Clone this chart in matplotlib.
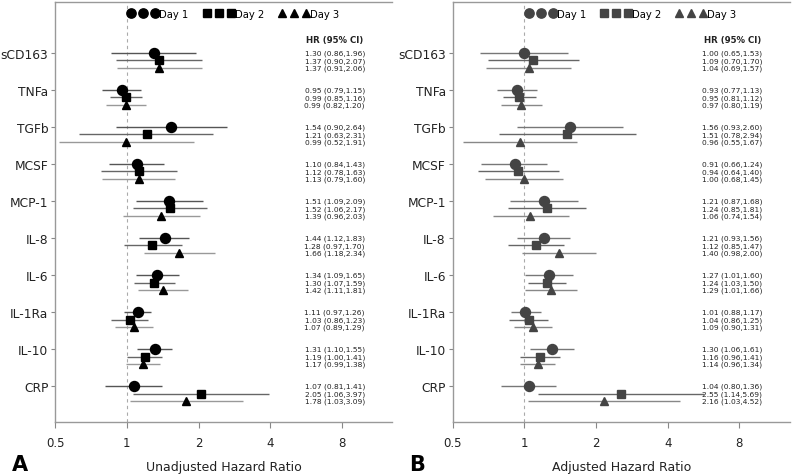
import numpy as np
import matplotlib
matplotlib.use("Agg")
import matplotlib.pyplot as plt
from matplotlib.lines import Line2D

markers = ["sCD163", "TNFa", "TGFb", "MCSF", "MCP-1", "IL-8", "IL-6", "IL-1Ra", "IL-10", "CRP"]
days = ["Day 1", "Day 2", "Day 3"]

# unadjusted hazard ratios, rows = markers, cols = day 1..3
unadj_hr = [[1.30, 1.37, 1.37], [0.95, 0.99, 0.99], [1.54, 1.21, 0.99], [1.10, 1.12, 1.13],
            [1.51, 1.52, 1.39], [1.44, 1.28, 1.66], [1.34, 1.30, 1.42], [1.11, 1.03, 1.07],
            [1.31, 1.19, 1.17], [1.07, 2.05, 1.78]]
unadj_lo = [[0.86, 0.90, 0.91], [0.79, 0.85, 0.82], [0.90, 0.63, 0.52], [0.84, 0.78, 0.79],
            [1.09, 1.06, 0.96], [1.12, 0.97, 1.18], [1.09, 1.07, 1.11], [0.97, 0.86, 0.89],
            [1.10, 1.00, 0.99], [0.81, 1.06, 1.03]]
unadj_hi = [[1.96, 2.07, 2.06], [1.15, 1.16, 1.20], [2.64, 2.31, 1.91], [1.43, 1.63, 1.60],
            [2.09, 2.17, 2.03], [1.83, 1.70, 2.34], [1.65, 1.59, 1.81], [1.26, 1.23, 1.29],
            [1.55, 1.41, 1.38], [1.41, 3.97, 3.09]]

# adjusted hazard ratios
adj_hr = [[1.00, 1.09, 1.04], [0.93, 0.95, 0.97], [1.56, 1.51, 0.96], [0.91, 0.94, 1.00],
          [1.21, 1.24, 1.06], [1.21, 1.12, 1.40], [1.27, 1.24, 1.29], [1.01, 1.04, 1.09],
          [1.30, 1.16, 1.14], [1.04, 2.55, 2.16]]
adj_lo = [[0.65, 0.70, 0.69], [0.77, 0.81, 0.80], [0.93, 0.78, 0.55], [0.66, 0.64, 0.68],
          [0.87, 0.85, 0.74], [0.93, 0.85, 0.98], [1.01, 1.03, 1.01], [0.88, 0.86, 0.90],
          [1.06, 0.96, 0.96], [0.80, 1.14, 1.03]]
adj_hi = [[1.53, 1.70, 1.57], [1.13, 1.12, 1.19], [2.60, 2.94, 1.67], [1.24, 1.40, 1.45],
          [1.68, 1.81, 1.54], [1.56, 1.47, 2.00], [1.60, 1.50, 1.66], [1.17, 1.25, 1.31],
          [1.61, 1.41, 1.34], [1.36, 5.69, 4.52]]

xticks = [0.5, 1, 2, 4, 8]
xtick_labels = ["0.5", "1", "2", "4", "8"]

shapes = ["o", "s", "^"]
sizes = [7.2, 6.2, 6.2]
day_step = 0.2


def forest(ax, hr, lo, hi, mcolor, lcolors, xlabel, letter):
    hr, lo, hi = np.array(hr), np.array(lo), np.array(hi)
    base = np.arange(len(markers))
    for d in range(3):
        y = base + d * day_step
        ax.hlines(y, lo[:, d], hi[:, d], color=lcolors[d], lw=1.0, zorder=2)
        ax.plot(hr[:, d], y, linestyle="none", marker=shapes[d], ms=sizes[d],
                color=mcolor, zorder=3)
        for i in range(len(markers)):
            ax.text(0.83, y[i], f"{hr[i, d]:.2f} ({lo[i, d]:.2f},{hi[i, d]:.2f})",
                    transform=ax.get_yaxis_transform(), ha="center", va="center",
                    fontsize=5.4, color="#222222")
    ax.text(0.83, -0.36, "HR (95% CI)", transform=ax.get_yaxis_transform(),
            ha="center", va="center", fontsize=6.2, fontweight="bold", color="#222222")

    ax.axvline(1, color="#aaaaaa", ls=(0, (3, 3)), lw=0.8, zorder=1)
    ax.set_xscale("log", base=2)
    ax.set_xlim(0.5, 13)
    ax.set_xticks(xticks)
    ax.set_xticklabels(xtick_labels)
    ax.minorticks_off()
    ax.set_ylim(9.97, -1.38)
    ax.set_yticks(base)
    ax.set_yticklabels(markers)
    ax.tick_params(axis="y", labelsize=8.8, length=3, color="#888888", labelcolor="#222222", pad=2)
    ax.tick_params(axis="x", labelsize=8.5, length=4, color="#888888", labelcolor="#222222", pad=6)
    for s in ["left", "bottom", "top"]:
        ax.spines[s].set_color("#999999")
        ax.spines[s].set_linewidth(1.0)
    ax.spines["right"].set_visible(False)
    ax.set_xlabel(xlabel, fontsize=9, color="#222222", labelpad=8)

    handles = [Line2D([], [], linestyle="none", marker=shapes[d], ms=sizes[d] - 0.5,
                      color=mcolor) for d in range(3)]
    ax.legend(handles, days, loc="upper center", bbox_to_anchor=(0.53, 1.0), ncol=3,
              numpoints=3, handlelength=3.0, handletextpad=0.1, columnspacing=1.5,
              frameon=False, fontsize=7.2, borderaxespad=0.3)
    ax.text(-0.13, -0.1, letter, transform=ax.transAxes, fontsize=15,
            fontweight="bold", ha="left", va="center")


fig = plt.figure(figsize=(8, 4.77), dpi=100)
ax1 = fig.add_axes([0.069, 0.113, 0.421, 0.881])
ax2 = fig.add_axes([0.566, 0.113, 0.421, 0.881])

forest(ax1, unadj_hr, unadj_lo, unadj_hi, "black",
       ["#555555", "#666666", "#999999"], "Unadjusted Hazard Ratio", "A")
forest(ax2, adj_hr, adj_lo, adj_hi, "#444444",
       ["#777777", "#666666", "#888888"], "Adjusted Hazard Ratio", "B")

fig.savefig("out.png", dpi=100)
